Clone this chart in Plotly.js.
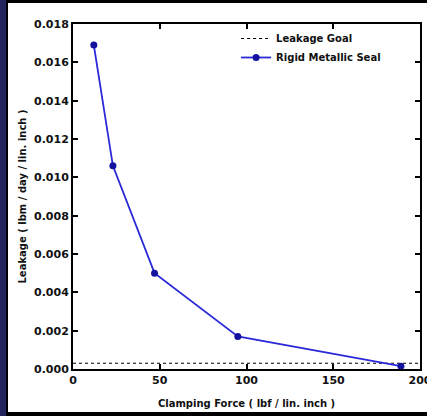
<!DOCTYPE html>
<html><head><meta charset="utf-8">
<script src="https://cdn.plot.ly/plotly-3.0.1.min.js"></script>
<style>
html,body{margin:0;padding:0;background:#000;width:427px;height:416px;overflow:hidden;position:relative;}
#strip{position:absolute;left:0;top:0;width:6px;height:416px;background:#24245e;}
#plot{position:absolute;left:8px;top:3px;width:450px;height:409px;background:#fff;}
</style></head>
<body><div id="strip"></div><div id="plot"></div>
<script>
const clampingForce = [12, 23, 47, 95, 189];
const leakage = [0.0169, 0.0106, 0.0050, 0.0017, 0.00015];
const goalX = [0, 200];
const goalY = [0.0003, 0.0003];
const xTicks = [0, 50, 100, 150, 200];
const yTicks = [0, 0.002, 0.004, 0.006, 0.008, 0.010, 0.012, 0.014, 0.016, 0.018];

const F = 'DejaVu Sans, sans-serif';
const traces = [
  {x: goalX, y: goalY, mode: 'lines', name: 'Leakage Goal',
   line: {color: '#000', width: 1.2, dash: 'dot'}},
  {x: clampingForce, y: leakage, mode: 'lines+markers', name: 'Rigid Metallic Seal',
   line: {color: '#2a2ad8', width: 1.8}, marker: {color: '#12129e', size: 7}}
];
const axisCommon = {showgrid: false, zeroline: false, showline: true, linecolor: '#000', linewidth: 2,
  mirror: 'ticks', ticks: 'inside', ticklen: 5, tickwidth: 2, tickcolor: '#000',
  tickfont: {family: F, size: 11, color: '#111', weight: 'bold'}};
const layout = {
  width: 450, height: 409,
  margin: {l: 65, r: 38, t: 21, b: 43},
  paper_bgcolor: '#fff', plot_bgcolor: '#fff',
  showlegend: true,
  legend: {x: 0.47, y: 1.0, xanchor: 'left', yanchor: 'top', bgcolor: 'rgba(0,0,0,0)',
    font: {family: F, size: 10, color: '#111', weight: 'bold'}, tracegroupgap: 0, itemwidth: 30},
  xaxis: Object.assign({}, axisCommon, {range: [0, 200], tickvals: xTicks,
    title: {text: 'Clamping Force ( lbf / lin. inch )', font: {family: F, size: 10, color: '#111', weight: 'bold'}, standoff: 14}}),
  yaxis: Object.assign({}, axisCommon, {range: [0, 0.018], tickvals: yTicks, tickformat: '.3f',
    title: {text: 'Leakage ( lbm / day / lin. inch )', font: {family: F, size: 10, color: '#111', weight: 'bold'}, standoff: 6}})
};
Plotly.newPlot('plot', traces, layout, {displayModeBar: false, staticPlot: true});
</script></body></html>
